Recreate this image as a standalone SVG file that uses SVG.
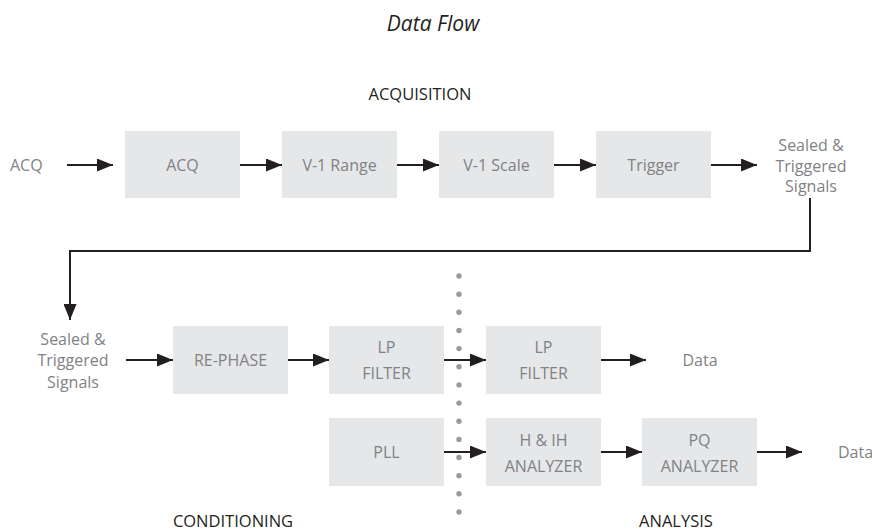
<svg xmlns="http://www.w3.org/2000/svg" width="872" height="531" viewBox="0 0 872 531">
<defs>
<style>
.box{fill:#e6e7e8}
.bt{font-family:"Open Sans","Noto Sans",sans-serif;font-size:16px;fill:#808285;text-anchor:middle}
.lbl{font-family:"Open Sans","Noto Sans",sans-serif;font-size:16px;fill:#808285}
.sec{font-family:"Open Sans","Noto Sans",sans-serif;font-size:16.5px;fill:#231f20;text-anchor:middle}
.ttl{font-family:"Open Sans","Noto Sans",sans-serif;font-size:21px;font-style:italic;fill:#231f20;text-anchor:middle}
.ln{stroke:#231f20;stroke-width:2;fill:none}
.ar{stroke:#231f20;stroke-width:2;fill:none;marker-end:url(#ah)}
.dot{fill:#9a9a9a}
</style>
<marker id="ah" viewBox="0 0 16 13" refX="16" refY="6.5" markerWidth="16" markerHeight="13" markerUnits="userSpaceOnUse" orient="auto">
<path d="M0,0 L16,6.5 L0,13 Z" fill="#231f20"/>
</marker>
</defs>
<rect width="872" height="531" fill="#ffffff"/>
<text class="ttl" x="433" y="31">Data Flow</text>
<text class="sec" x="420" y="100">ACQUISITION</text>
<text class="sec" x="233" y="527">CONDITIONING</text>
<text class="sec" x="676" y="527">ANALYSIS</text>

<g id="acq-in"><text class="lbl" x="10" y="171">ACQ</text></g>
<g id="acq"><rect class="box" x="125" y="131" width="115" height="67"/><text class="bt" x="182.5" y="171">ACQ</text></g>
<g id="v1range"><rect class="box" x="282" y="131" width="115" height="67"/><text class="bt" x="339.5" y="171">V-1 Range</text></g>
<g id="v1scale"><rect class="box" x="439" y="131" width="115" height="67"/><text class="bt" x="496.5" y="171">V-1 Scale</text></g>
<g id="trigger"><rect class="box" x="596" y="131" width="115" height="67"/><text class="bt" x="653.5" y="171">Trigger</text></g>
<g id="sealed-out"><text class="bt" x="811"><tspan x="811" y="151">Sealed &amp;</tspan><tspan x="811" y="172">Triggered</tspan><tspan x="811" y="192">Signals</tspan></text></g>

<g id="sealed-in"><text class="bt"><tspan x="73" y="345">Sealed &amp;</tspan><tspan x="73" y="366">Triggered</tspan><tspan x="73" y="388">Signals</tspan></text></g>
<g id="rephase"><rect class="box" x="173" y="326" width="115" height="68"/><text class="bt" x="230.5" y="366">RE-PHASE</text></g>
<g id="lpfilter1"><rect class="box" x="329" y="326" width="115" height="68"/><text class="bt"><tspan x="386.5" y="353">LP</tspan><tspan x="386.5" y="379">FILTER</tspan></text></g>
<g id="lpfilter2"><rect class="box" x="486" y="326" width="115" height="68"/><text class="bt"><tspan x="543.5" y="353">LP</tspan><tspan x="543.5" y="379">FILTER</tspan></text></g>
<g id="data1"><text class="bt" x="700" y="366">Data</text></g>
<g id="pll"><rect class="box" x="329" y="418" width="115" height="68"/><text class="bt" x="386.5" y="458">PLL</text></g>
<g id="hih"><rect class="box" x="486" y="418" width="115" height="68"/><text class="bt"><tspan x="543.5" y="446">H &amp; IH</tspan><tspan x="543.5" y="472">ANALYZER</tspan></text></g>
<g id="pq"><rect class="box" x="642" y="418" width="115" height="68"/><text class="bt"><tspan x="699.5" y="446">PQ</tspan><tspan x="699.5" y="472">ANALYZER</tspan></text></g>
<g id="data2"><text class="lbl" x="838" y="458">Data</text></g>

<g id="divider">
<circle class="dot" cx="459" cy="276" r="2.7"/><circle class="dot" cx="459" cy="294.2" r="2.7"/><circle class="dot" cx="459" cy="312.3" r="2.7"/><circle class="dot" cx="459" cy="330.5" r="2.7"/><circle class="dot" cx="459" cy="348.6" r="2.7"/><circle class="dot" cx="459" cy="366.8" r="2.7"/><circle class="dot" cx="459" cy="384.9" r="2.7"/><circle class="dot" cx="459" cy="403.1" r="2.7"/><circle class="dot" cx="459" cy="421.2" r="2.7"/><circle class="dot" cx="459" cy="439.4" r="2.7"/><circle class="dot" cx="459" cy="457.5" r="2.7"/><circle class="dot" cx="459" cy="475.7" r="2.7"/><circle class="dot" cx="459" cy="493.8" r="2.7"/><circle class="dot" cx="459" cy="512" r="2.7"/>
</g>

<g id="connectors">
<line class="ar" x1="67" y1="165" x2="113" y2="165"/>
<line class="ar" x1="240" y1="165" x2="282" y2="165"/>
<line class="ar" x1="397" y1="165" x2="439" y2="165"/>
<line class="ar" x1="554" y1="165" x2="596" y2="165"/>
<line class="ar" x1="711" y1="165" x2="757" y2="165"/>
<polyline class="ar" points="810,198 810,251 70,251 70,320"/>
<line class="ar" x1="126" y1="360" x2="173" y2="360"/>
<line class="ar" x1="288" y1="360" x2="329" y2="360"/>
<line class="ar" x1="444" y1="360" x2="486" y2="360"/>
<line class="ar" x1="601" y1="360" x2="646" y2="360"/>
<line class="ar" x1="444" y1="452" x2="486" y2="452"/>
<line class="ar" x1="601" y1="452" x2="642" y2="452"/>
<line class="ar" x1="757" y1="452" x2="802" y2="452"/>
</g>
</svg>
